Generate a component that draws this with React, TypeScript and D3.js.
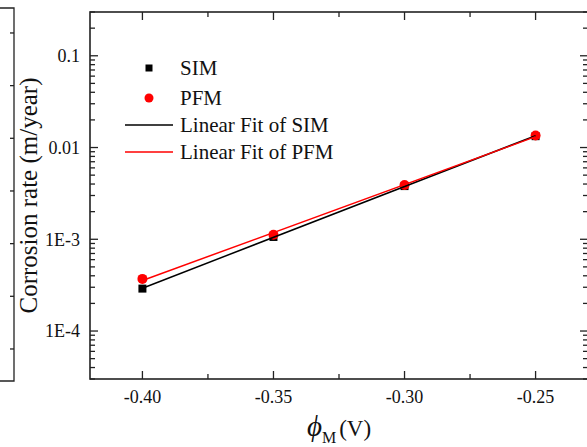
import React from "react";
import * as d3 from "d3";

// ---- data ----
const potentials = [-0.4, -0.35, -0.3, -0.25];
const simRates = [2.9e-4, 1.06e-3, 3.8e-3, 0.0133];
const pfmRates = [3.7e-4, 1.12e-3, 3.9e-3, 0.0135];

const xMajorTicks = [-0.4, -0.35, -0.3, -0.25];
const xTickLabels = ["-0.40", "-0.35", "-0.30", "-0.25"];
const xMinorTicks = [-0.375, -0.325, -0.275];

const yMajorTicks = [1e-4, 1e-3, 1e-2, 1e-1];
const yTickLabels = ["1E-4", "1E-3", "0.01", "0.1"];

const legendLabels = ["SIM", "PFM", "Linear Fit of SIM", "Linear Fit of PFM"];

// neighbouring (cropped) panel's right axis ticks
const neighborTicks = [1, 2, 3, 4, 5, 6, 7];

const W = 587;
const H = 447;
const FONT = "Liberation Serif, Times New Roman, serif";
const RED = "#ff0000";

function logFit(xs: number[], ys: number[]) {
  const ly = ys.map((v) => Math.log10(v));
  const mx = d3.mean(xs) as number;
  const my = d3.mean(ly) as number;
  let num = 0;
  let den = 0;
  xs.forEach((x, i) => {
    num += (x - mx) * (ly[i] - my);
    den += (x - mx) * (x - mx);
  });
  const b = num / den;
  const a = my - b * mx;
  return (x: number) => Math.pow(10, a + b * x);
}

export default function App() {
  const left = 90;
  const right = 588;
  const top = 12;
  const bottom = 379;

  const x = d3.scaleLinear().domain([-0.42, -0.23]).range([left, right]);
  const y = d3.scaleLog().domain([3e-5, 0.3]).range([bottom, top]);

  const yMinor = y
    .ticks()
    .filter((t) => !yMajorTicks.some((m) => Math.abs(Math.log10(t) - Math.log10(m)) < 1e-6));

  const nY = d3.scaleLinear().domain([0.392, 7.474]).range([381, 8]);

  const simFit = logFit(potentials, simRates);
  const pfmFit = logFit(potentials, pfmRates);
  const fitXs = [potentials[0], potentials[potentials.length - 1]];
  const line = d3
    .line<[number, number]>()
    .x((d) => x(d[0]))
    .y((d) => y(d[1]));
  const simPath = line(fitXs.map((v) => [v, simFit(v)] as [number, number])) as string;
  const pfmPath = line(fitXs.map((v) => [v, pfmFit(v)] as [number, number])) as string;

  const majLen = 8;
  const minLen = 5;
  const sq = 8;

  const legX = 149;
  const legTextX = 180;
  const legRows = [68, 98, 125, 152];

  const tf = { fontFamily: FONT };

  return (
    <svg
      width={W}
      height={H}
      style={{ position: "absolute", left: 0, top: 0, background: "#fff", fontFamily: FONT }}
    >
      <rect x={0} y={0} width={W} height={H} fill="#fff" />

      {/* neighbouring panel fragment */}
      <g stroke="#222" strokeWidth={1.3} fill="none">
        <path d={`M0,${nY(7.474)}H14V${nY(0.392)}H0`} />
        {neighborTicks.map((t) => (
          <line key={t} x1={14} x2={10} y1={nY(t)} y2={nY(t)} />
        ))}
      </g>

      {/* ticks */}
      <g stroke="#222" strokeWidth={1.3}>
        {yMajorTicks.map((t) => (
          <g key={"ym" + t}>
            <line x1={left} x2={left + majLen} y1={y(t)} y2={y(t)} />
            <line x1={right} x2={right - majLen} y1={y(t)} y2={y(t)} />
          </g>
        ))}
        {yMinor.map((t, i) => (
          <g key={"yn" + i}>
            <line x1={left} x2={left + minLen} y1={y(t)} y2={y(t)} />
            <line x1={right} x2={right - minLen} y1={y(t)} y2={y(t)} />
          </g>
        ))}
        {xMajorTicks.map((t) => (
          <g key={"xm" + t}>
            <line x1={x(t)} x2={x(t)} y1={bottom} y2={bottom - majLen} />
            <line x1={x(t)} x2={x(t)} y1={top} y2={top + majLen} />
          </g>
        ))}
        {xMinorTicks.map((t) => (
          <g key={"xn" + t}>
            <line x1={x(t)} x2={x(t)} y1={bottom} y2={bottom - minLen} />
            <line x1={x(t)} x2={x(t)} y1={top} y2={top + minLen} />
          </g>
        ))}
      </g>

      {/* frame */}
      <rect
        x={left}
        y={top}
        width={right - left}
        height={bottom - top}
        fill="none"
        stroke="#222"
        strokeWidth={1.6}
      />

      {/* tick labels */}
      <g fill="#111">
        {yMajorTicks.map((t, i) => (
          <text key={"yl" + t} x={left - 10} y={y(t)} dy="0.35em" textAnchor="end" style={{ ...tf, fontSize: 18 }}>
            {yTickLabels[i]}
          </text>
        ))}
        {xMajorTicks.map((t, i) => (
          <text key={"xl" + t} x={x(t)} y={403} textAnchor="middle" style={{ ...tf, fontSize: 18 }}>
            {xTickLabels[i]}
          </text>
        ))}
      </g>

      {/* axis titles */}
      <text
        transform={`translate(37,${(top + bottom) / 2}) rotate(-90)`}
        textAnchor="middle"
        style={{ ...tf, fontSize: 25 }}
        fill="#111"
      >
        Corrosion rate (m/year)
      </text>
      <text x={(left + right) / 2} y={436} textAnchor="middle" fill="#111" style={tf}>
        <tspan fontStyle="italic" fontSize={29}>ϕ</tspan>
        <tspan fontSize={16} dy={7}>M</tspan>
        <tspan fontSize={23} dy={-7} dx={3}>(V)</tspan>
      </text>

      {/* data markers */}
      {potentials.map((p, i) => (
        <rect
          key={"s" + i}
          x={x(p) - sq / 2}
          y={y(simRates[i]) - sq / 2}
          width={sq}
          height={sq}
          fill="#000"
        />
      ))}
      {potentials.map((p, i) => (
        <circle key={"c" + i} cx={x(p)} cy={y(pfmRates[i])} r={5} fill={RED} />
      ))}

      {/* fit lines */}
      <path d={simPath} stroke="#000" strokeWidth={1.5} fill="none" />
      <path d={pfmPath} stroke={RED} strokeWidth={1.5} fill="none" />

      {/* legend */}
      <g fill="#111">
        <rect x={legX - 3.5} y={legRows[0] - 3.5} width={7} height={7} fill="#000" />
        <circle cx={legX} cy={legRows[1]} r={4.5} fill={RED} />
        <line x1={125} x2={173} y1={legRows[2]} y2={legRows[2]} stroke="#000" strokeWidth={1.5} />
        <line x1={125} x2={173} y1={legRows[3]} y2={legRows[3]} stroke={RED} strokeWidth={1.5} />
        {legendLabels.map((l, i) => (
          <text key={l} x={legTextX} y={legRows[i]} dy="0.33em" style={{ ...tf, fontSize: 21 }}>
            {l}
          </text>
        ))}
      </g>
    </svg>
  );
}
